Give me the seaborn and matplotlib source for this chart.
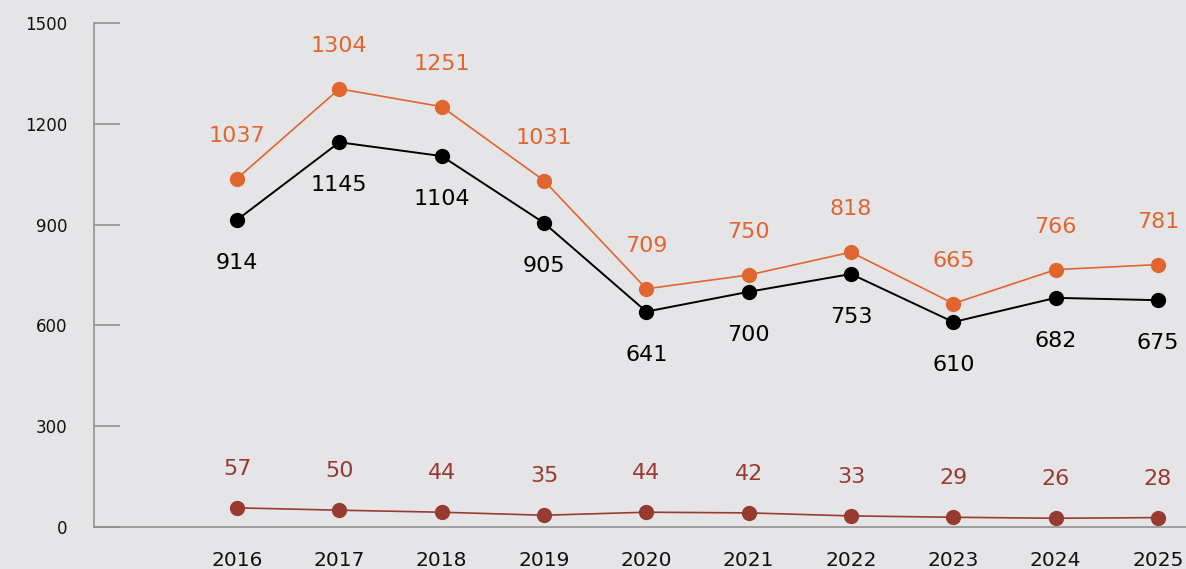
import matplotlib
matplotlib.use("Agg")
import matplotlib.pyplot as plt
import seaborn as sns
import pandas as pd

years = [2016, 2017, 2018, 2019, 2020, 2021, 2022, 2023, 2024, 2025]
orange_vals = [1037, 1304, 1251, 1031, 709, 750, 818, 665, 766, 781]
black_vals = [914, 1145, 1104, 905, 641, 700, 753, 610, 682, 675]
red_vals = [57, 50, 44, 35, 44, 42, 33, 29, 26, 28]
y_ticks = [0, 300, 600, 900, 1200, 1500]

c_orange = "#E0652F"
c_black = "#000000"
c_red = "#973B30"
bg = "#E5E5E7"
axis_c = "#8C8C8C"

sns.set_theme(style="white")
plt.rcParams["font.family"] = ["DejaVu Sans"]

fig = plt.figure(figsize=(11.86, 5.69), dpi=100, facecolor=bg)
ax = fig.add_axes([94 / 1186, 42 / 569, 1 - 94 / 1186, (527 - 23) / 569])
ax.set_facecolor(bg)

df = pd.DataFrame({"year": years * 3,
                   "value": orange_vals + black_vals + red_vals,
                   "series": ["orange"] * 10 + ["black"] * 10 + ["red"] * 10})
palette = {"orange": c_orange, "black": c_black, "red": c_red}
widths = {"orange": 1.2, "black": 1.4, "red": 1.2}
for s in ["red", "black", "orange"]:
    sub = df[df.series == s]
    sns.lineplot(data=sub, x="year", y="value", color=palette[s], marker="o",
                 markersize=11, markeredgewidth=0, linewidth=widths[s], ax=ax,
                 legend=False)

label_kw = dict(fontsize=16, ha="center", va="center", textcoords="offset points")
for x, v in zip(years, orange_vals):
    ax.annotate(str(v), (x, v), xytext=(0, 31), color=c_orange, **label_kw)
for x, v in zip(years, black_vals):
    ax.annotate(str(v), (x, v), xytext=(0, -31), color=c_black, **label_kw)
for x, v in zip(years, red_vals):
    ax.annotate(str(v), (x, v), xytext=(0, 28), color=c_red, **label_kw)

ax.set_xlim(2016 - 143 / 102.33, 2025 + 28 / 102.33)
ax.set_ylim(0, 1500)
ax.set_yticks(y_ticks)
ax.set_yticklabels([str(t) for t in y_ticks], fontsize=12, color="#111111")
ax.set_xticks(years)
ax.set_xticklabels([str(y) for y in years], fontsize=14.5, color="#111111")
ax.tick_params(axis="y", left=True, direction="in", length=19, width=1.1,
               color=axis_c, pad=19)
ax.tick_params(axis="x", bottom=False, length=0, pad=17)
ax.set_xlabel("")
ax.set_ylabel("")
for side in ["top", "right"]:
    ax.spines[side].set_visible(False)
for side in ["left", "bottom"]:
    ax.spines[side].set_color(axis_c)
    ax.spines[side].set_linewidth(1.1)
ax.grid(False)

fig.savefig("out.png", dpi=100, facecolor=bg)
